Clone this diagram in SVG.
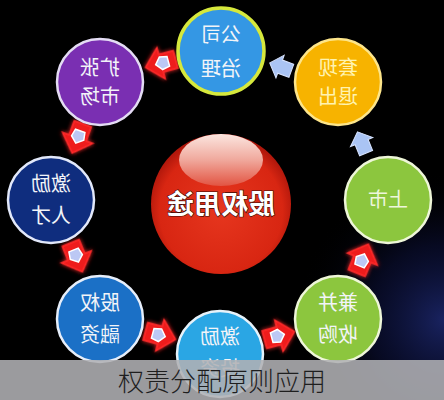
<svg xmlns="http://www.w3.org/2000/svg" width="444" height="400" viewBox="0 0 444 400">
<style>
.nt{font-family:"Noto Sans CJK SC","Noto Sans",sans-serif;font-size:20px;text-anchor:middle;fill:#f2f4f8}
.ct{font-family:"Noto Sans CJK SC","Noto Sans",sans-serif;font-size:27px;font-weight:bold;text-anchor:middle;fill:#ffffff;stroke:#3a0a06;stroke-width:1.2;paint-order:stroke}
.cap{font-family:"Noto Sans CJK SC","Noto Sans",sans-serif;font-size:26px;font-weight:300;text-anchor:middle;fill:#1e1e1e}
.ring{stroke-width:2.5}
</style>
<defs>
<radialGradient id="bgBlue" cx="444" cy="320" r="150" gradientUnits="userSpaceOnUse">
<stop offset="0" stop-color="#2a3aa0" stop-opacity="0.6"/>
<stop offset="0.5" stop-color="#141c60" stop-opacity="0.35"/>
<stop offset="1" stop-color="#000" stop-opacity="0"/>
</radialGradient>
<radialGradient id="sphere" cx="0.5" cy="0.55" r="0.55">
<stop offset="0" stop-color="#e6361e"/>
<stop offset="0.8" stop-color="#d82612"/>
<stop offset="1" stop-color="#a8140a"/>
</radialGradient>
<linearGradient id="hi" x1="0" y1="0" x2="0" y2="1">
<stop offset="0" stop-color="#fbe6e0"/>
<stop offset="0.5" stop-color="#f0a89c"/>
<stop offset="1" stop-color="#e25442"/>
</linearGradient>
<filter id="glow" x="-50%" y="-50%" width="200%" height="200%">
<feGaussianBlur in="SourceGraphic" stdDeviation="2.2" result="b"/>
<feMerge><feMergeNode in="b"/><feMergeNode in="SourceGraphic"/></feMerge>
</filter>
<g id="redArrow">
<path d="M0,-17 L16,-1 L9,-1 L9,14 L-9,14 L-9,-1 L-16,-1 Z" fill="#ee1c1c" stroke="#ff2a2a" stroke-width="1.5" filter="url(#glow)"/>
<path d="M0,-6.5 L6.5,-1 L5,6.5 L-5,6.5 L-6.5,-1 Z" fill="#bcc8f4" stroke="#ffffff" stroke-width="1.5"/>
</g>
<g id="blueArrow">
<path d="M0,-12 L12,-1 L7,-1 L7,11 L-7,11 L-7,-1 L-12,-1 Z" fill="#aac4f4" stroke="#d8e4ff" stroke-width="1"/>
</g>
</defs>
<rect width="444" height="400" fill="#000"/>
<rect width="444" height="400" fill="url(#bgBlue)"/>
<g id="connectors">
<use href="#redArrow" transform="translate(162,63) rotate(-105)"/>
<use href="#redArrow" transform="translate(78,137) rotate(200)"/>
<use href="#redArrow" transform="translate(76,256) rotate(158)"/>
<use href="#redArrow" transform="translate(159,335) rotate(105)"/>
<use href="#redArrow" transform="translate(278,336) rotate(75)"/>
<use href="#redArrow" transform="translate(362,260) rotate(22)"/>
<use href="#blueArrow" transform="translate(362,143) rotate(-22)"/>
<use href="#blueArrow" transform="translate(281,67) rotate(-70)"/>
</g>
<g id="center" transform="translate(221,204)">
<circle r="70" fill="url(#sphere)"/>
<ellipse cx="0" cy="-44" rx="42" ry="26" fill="url(#hi)"/>
<g transform="scale(-1,1)"><text class="ct" x="0" y="10">股权用途</text></g>
</g>
<g id="n-gongsi" transform="translate(221,51)">
<circle r="43" fill="#3497e4" stroke="#d6e83c" stroke-width="3.5"/>
<g transform="scale(-1,1)"><text class="nt" x="0" y="-9">公司</text><text class="nt" x="0" y="25">治理</text></g>
</g>
<g id="n-kuozhang" transform="translate(100,82)">
<circle r="43" fill="#7a2fb2" stroke="#e4dcf4" class="ring"/>
<g transform="scale(-1,1)"><text class="nt" x="0" y="-7">扩张</text><text class="nt" x="0" y="22">市场</text></g>
</g>
<g id="n-taoxian" transform="translate(338,82)">
<circle r="43" fill="#f7b300" stroke="#fde58a" class="ring"/>
<g transform="scale(-1,1)"><text class="nt" x="0" y="-7" style="fill:#fff3b0">套现</text><text class="nt" x="0" y="22" style="fill:#fff3b0">退出</text></g>
</g>
<g id="n-jili" transform="translate(51,200)">
<circle r="43" fill="#0f2d7e" stroke="#e2e8fa" class="ring"/>
<g transform="scale(-1,1)"><text class="nt" x="0" y="-9">激励</text><text class="nt" x="0" y="23">人才</text></g>
</g>
<g id="n-shangshi" transform="translate(388,200)">
<circle r="43" fill="#8cc63e" stroke="#eef6d8" class="ring"/>
<g transform="scale(-1,1)"><text class="nt" x="0" y="7" style="fill:#eef6dc">上市</text></g>
</g>
<g id="n-rongzi" transform="translate(100,319)">
<circle r="43" fill="#1b70c6" stroke="#e6eefa" class="ring"/>
<g transform="scale(-1,1)"><text class="nt" x="0" y="-9">股权</text><text class="nt" x="0" y="23">融资</text></g>
</g>
<g id="n-jianbing" transform="translate(338,319)">
<circle r="43" fill="#8cc63e" stroke="#eef6d8" class="ring"/>
<g transform="scale(-1,1)"><text class="nt" x="0" y="-9">兼并</text><text class="nt" x="0" y="23">收购</text></g>
</g>
<g id="n-jili2" transform="translate(220,354)">
<circle r="43" fill="#2aa6e4" stroke="#e6f2fa" class="ring"/>
<g transform="scale(-1,1)"><text class="nt" x="0" y="-10">激励</text><text class="nt" x="0" y="22">投资</text></g>
</g>
<g id="caption">
<rect x="0" y="360" width="444" height="40" fill="#b0b0b4" fill-opacity="0.88"/>
<text class="cap" x="222" y="391">权责分配原则应用</text>
</g>
</svg>
